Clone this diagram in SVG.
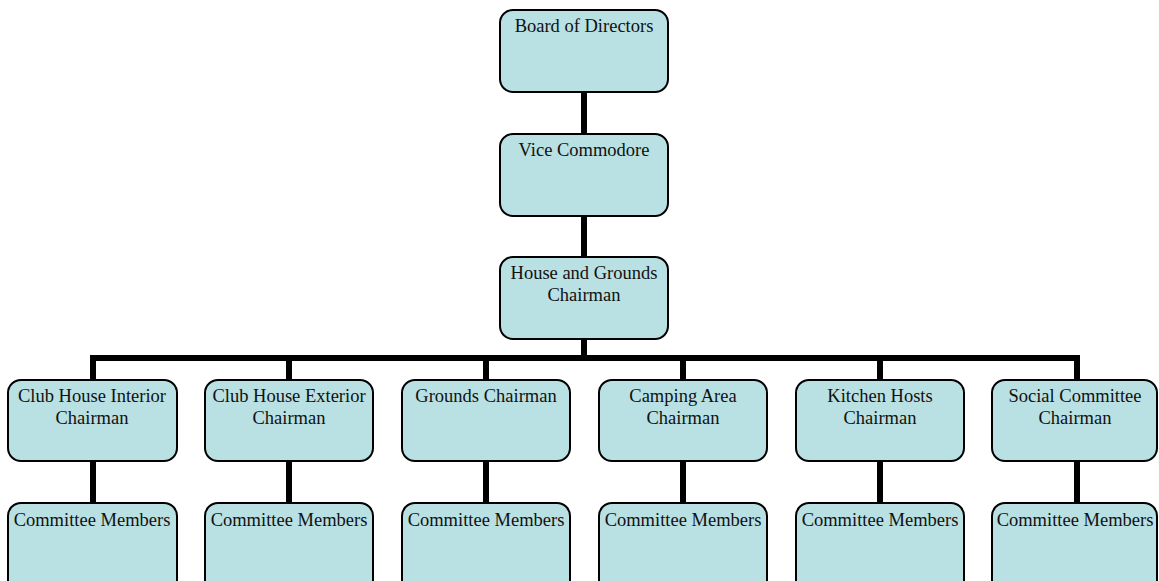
<svg xmlns="http://www.w3.org/2000/svg" width="1159" height="581" viewBox="0 0 1159 581">
<style>
.box{fill:#b9e0e3;stroke:#000;stroke-width:2}
.t{font-family:"Liberation Serif","Times New Roman",serif;font-size:18.5px;fill:#111;text-anchor:middle}
.c{stroke:#000;stroke-width:6;fill:none}
</style>
<rect width="1159" height="581" fill="#fff"/>
<g id="connectors">
<line class="c" x1="584" y1="92" x2="584" y2="135"/>
<line class="c" x1="584" y1="215" x2="584" y2="257"/>
<line class="c" x1="584" y1="339" x2="584" y2="358"/>
<line class="c" x1="90" y1="358" x2="1080" y2="358"/>
<line class="c" x1="93" y1="355" x2="93" y2="380"/>
<line class="c" x1="289" y1="358" x2="289" y2="380"/>
<line class="c" x1="486" y1="358" x2="486" y2="380"/>
<line class="c" x1="683" y1="358" x2="683" y2="380"/>
<line class="c" x1="880" y1="358" x2="880" y2="380"/>
<line class="c" x1="1077" y1="355" x2="1077" y2="380"/>
<line class="c" x1="93" y1="461" x2="93" y2="503"/>
<line class="c" x1="289" y1="461" x2="289" y2="503"/>
<line class="c" x1="486" y1="461" x2="486" y2="503"/>
<line class="c" x1="683" y1="461" x2="683" y2="503"/>
<line class="c" x1="880" y1="461" x2="880" y2="503"/>
<line class="c" x1="1077" y1="461" x2="1077" y2="503"/>
</g>
<g id="board"><rect class="box" x="500" y="10" width="168" height="82" rx="13"/><text class="t" x="584" y="32">Board of Directors</text></g>
<g id="vice"><rect class="box" x="500" y="134" width="168" height="82" rx="13"/><text class="t" x="584" y="156">Vice Commodore</text></g>
<g id="house"><rect class="box" x="500" y="257" width="168" height="82" rx="13"/><text class="t" x="584" y="279">House and Grounds</text><text class="t" x="584" y="301">Chairman</text></g>
<g id="interior"><rect class="box" x="8" y="380" width="169" height="81" rx="13"/><text class="t" x="92" y="402">Club House Interior</text><text class="t" x="92" y="424">Chairman</text></g>
<g id="exterior"><rect class="box" x="205" y="380" width="168" height="81" rx="13"/><text class="t" x="289" y="402">Club House Exterior</text><text class="t" x="289" y="424">Chairman</text></g>
<g id="grounds"><rect class="box" x="402" y="380" width="168" height="81" rx="13"/><text class="t" x="486" y="402">Grounds Chairman</text></g>
<g id="camping"><rect class="box" x="599" y="380" width="168" height="81" rx="13"/><text class="t" x="683" y="402">Camping Area</text><text class="t" x="683" y="424">Chairman</text></g>
<g id="kitchen"><rect class="box" x="796" y="380" width="168" height="81" rx="13"/><text class="t" x="880" y="402">Kitchen Hosts</text><text class="t" x="880" y="424">Chairman</text></g>
<g id="social"><rect class="box" x="992" y="380" width="165" height="81" rx="13"/><text class="t" x="1075" y="402">Social Committee</text><text class="t" x="1075" y="424">Chairman</text></g>
<g id="members1"><rect class="box" x="8" y="503" width="169" height="95" rx="13"/><text class="t" x="92" y="526">Committee Members</text></g>
<g id="members2"><rect class="box" x="205" y="503" width="168" height="95" rx="13"/><text class="t" x="289" y="526">Committee Members</text></g>
<g id="members3"><rect class="box" x="402" y="503" width="168" height="95" rx="13"/><text class="t" x="486" y="526">Committee Members</text></g>
<g id="members4"><rect class="box" x="599" y="503" width="168" height="95" rx="13"/><text class="t" x="683" y="526">Committee Members</text></g>
<g id="members5"><rect class="box" x="796" y="503" width="168" height="95" rx="13"/><text class="t" x="880" y="526">Committee Members</text></g>
<g id="members6"><rect class="box" x="992" y="503" width="165" height="95" rx="13"/><text class="t" x="1075" y="526">Committee Members</text></g>
</svg>
